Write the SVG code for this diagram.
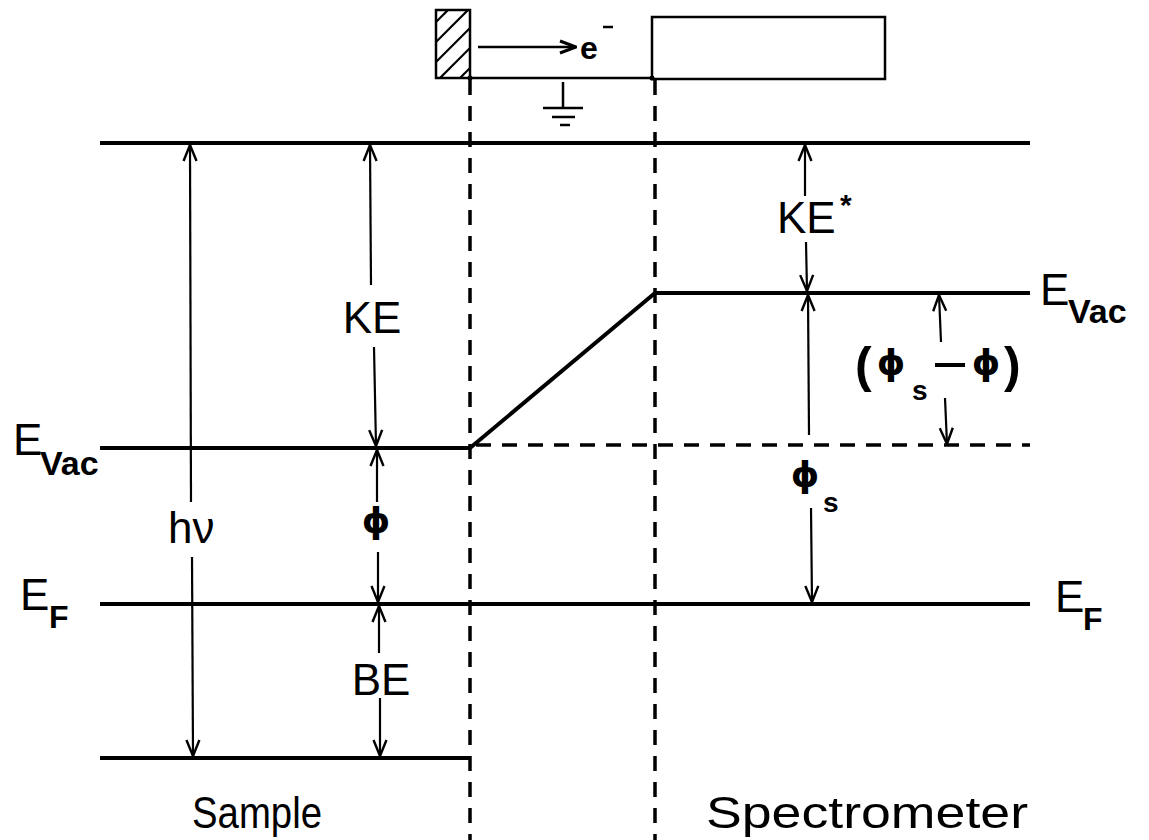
<svg xmlns="http://www.w3.org/2000/svg" width="1149" height="840" viewBox="0 0 1149 840">
<style>
.lvl{stroke:#000;stroke-width:4;fill:none}
.dash{stroke:#000;stroke-width:3.5;fill:none;stroke-dasharray:15 11}
.arr{stroke:#000;stroke-width:2.2;fill:none;marker-end:url(#ah)}
.thin{stroke:#000;stroke-width:2.5;fill:none}
text{font-family:"Liberation Sans","DejaVu Sans",sans-serif;fill:#000}
.m{font-size:44px}
.sub{font-size:34px;font-weight:bold}
.phi{font-family:"DejaVu Sans",sans-serif;font-size:36px;font-weight:bold}
</style>
<defs>
<marker id="ah" viewBox="0 0 18 16" refX="17" refY="8" markerWidth="18" markerHeight="16" markerUnits="userSpaceOnUse" orient="auto">
<path d="M1,1.5 L17,8 L1,14.5" stroke="#000" stroke-width="2.4" fill="none"/>
</marker>
<marker id="ah2" viewBox="0 0 18 16" refX="17" refY="8" markerWidth="18" markerHeight="16" markerUnits="userSpaceOnUse" orient="auto">
<path d="M1,2 L17,8 L1,14" stroke="#000" stroke-width="3" fill="none"/>
</marker>
<clipPath id="hclip"><rect x="436" y="10" width="34" height="68"/></clipPath>
</defs>

<g id="apparatus">
<rect x="436" y="10" width="34" height="68" class="thin"/>
<g clip-path="url(#hclip)" stroke="#000" stroke-width="2.2">
<line x1="420" y1="38" x2="480" y2="-22"/>
<line x1="420" y1="58" x2="480" y2="-2"/>
<line x1="420" y1="78" x2="480" y2="18"/>
<line x1="420" y1="98" x2="480" y2="38"/>
<line x1="420" y1="118" x2="480" y2="58"/>
</g>
<line x1="470" y1="78" x2="652" y2="78" class="thin"/>
<rect x="652" y="17" width="233" height="62" class="thin"/>
<circle cx="470" cy="78" r="2.5"/>
<circle cx="652" cy="78" r="2.5"/>
<line x1="478" y1="47" x2="576" y2="47" stroke="#000" stroke-width="2.6" marker-end="url(#ah2)"/>
<text x="580" y="59" style="font-size:32px;font-weight:bold">e</text>
<line x1="603" y1="27" x2="613" y2="27" stroke="#000" stroke-width="2.5"/>
<line x1="563" y1="82" x2="563" y2="108" class="thin"/>
<line x1="543" y1="108" x2="583" y2="108" class="thin"/>
<line x1="552" y1="117" x2="575" y2="117" class="thin"/>
<line x1="560" y1="125" x2="570" y2="125" class="thin"/>
</g>

<g id="levels">
<line x1="100" y1="143" x2="1030" y2="143" class="lvl"/>
<line x1="655" y1="293" x2="1030" y2="293" class="lvl"/>
<line x1="100" y1="448" x2="470" y2="448" class="lvl"/>
<line x1="470" y1="448" x2="655" y2="293" class="lvl"/>
<line x1="476" y1="445" x2="1030" y2="445" class="dash"/>
<line x1="100" y1="604" x2="1030" y2="604" class="lvl"/>
<line x1="100" y1="758" x2="470" y2="758" class="lvl"/>
<line x1="470" y1="80" x2="470" y2="840" class="dash"/>
<line x1="655" y1="80" x2="655" y2="840" class="dash"/>
</g>

<g id="connectors">
<line x1="191" y1="502" x2="190" y2="145" class="arr"/>
<line x1="192" y1="557" x2="193" y2="756" class="arr"/>
<line x1="371" y1="285" x2="370" y2="145" class="arr"/>
<line x1="374" y1="347" x2="376" y2="446" class="arr"/>
<line x1="377" y1="502" x2="377" y2="450" class="arr"/>
<line x1="378" y1="552" x2="378" y2="602" class="arr"/>
<line x1="379" y1="653" x2="379" y2="606" class="arr"/>
<line x1="380" y1="698" x2="380" y2="756" class="arr"/>
<line x1="805" y1="196" x2="805" y2="145" class="arr"/>
<line x1="806" y1="242" x2="807" y2="291" class="arr"/>
<line x1="809" y1="435" x2="808" y2="295" class="arr"/>
<line x1="811" y1="508" x2="812" y2="602" class="arr"/>
<line x1="941" y1="342" x2="939" y2="295" class="arr"/>
<line x1="945" y1="398" x2="947" y2="444" class="arr"/>
</g>

<g id="labels">
<text x="13" y="455" class="m">E</text><text x="40" y="475" class="sub">Vac</text>
<text x="1040" y="305" class="m">E</text><text x="1068" y="323" class="sub">Vac</text>
<text x="20" y="610" class="m">E</text><text x="49" y="628" class="sub" style="font-size:32px">F</text>
<text x="1055" y="612" class="m">E</text><text x="1083" y="630" class="sub" style="font-size:32px">F</text>
<text x="372" y="333" class="m" text-anchor="middle">KE</text>
<text x="376" y="533" class="phi" text-anchor="middle">ϕ</text>
<text x="381" y="695" class="m" text-anchor="middle">BE</text>
<text x="168" y="543" class="m">hν</text>
<text x="777" y="233" class="m">KE</text>
<text x="840" y="215" style="font-size:30px;font-weight:bold">*</text>
<text x="805" y="487" class="phi" text-anchor="middle">ϕ</text>
<text x="823" y="512" class="sub" style="font-size:28px">s</text>
<text x="855" y="382" style="font-size:50px;font-weight:bold">(</text>
<text x="891" y="375" class="phi" text-anchor="middle">ϕ</text>
<text x="912" y="400" class="sub" style="font-size:28px">s</text>
<line x1="935" y1="365" x2="965" y2="365" stroke="#000" stroke-width="4"/>
<text x="986" y="375" class="phi" text-anchor="middle">ϕ</text>
<text x="1004" y="382" style="font-size:50px;font-weight:bold">)</text>
<text x="192" y="828" class="m" textLength="130" lengthAdjust="spacingAndGlyphs">Sample</text>
<text x="706" y="828" class="m" textLength="322" lengthAdjust="spacingAndGlyphs">Spectrometer</text>
</g>
</svg>
